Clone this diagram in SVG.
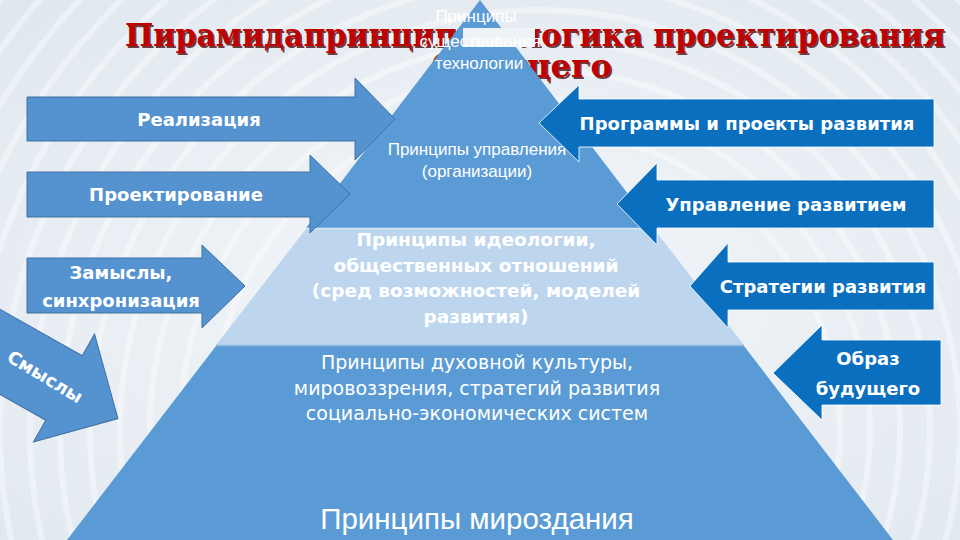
<svg xmlns="http://www.w3.org/2000/svg" width="960" height="540" viewBox="0 0 960 540">
  <defs>
    <radialGradient id="bg" cx="0.5" cy="0.55" r="0.75">
      <stop offset="0" stop-color="#f4f7fa"/>
      <stop offset="1" stop-color="#dfe7ee"/>
    </radialGradient>
    <style>
      .rings circle { fill: none; stroke: #ffffff; stroke-width: 6; stroke-opacity: 0.4; }
      .title { font-family: "DejaVu Serif", "Liberation Serif", serif; font-weight: bold; font-size: 31px; fill: #c00000; }
      .tshadow { font-family: "DejaVu Serif", "Liberation Serif", serif; font-weight: bold; font-size: 31px; fill: #4a0a0a; fill-opacity: 0.8; }
      .larrow { fill: #5592d0; stroke: #3f70a0; stroke-width: 1; }
      .rarrow { fill: #0b6fc0; stroke: #ffffff; stroke-width: 0.8; }
      .albl { font-family: "DejaVu Sans", "Liberation Sans", sans-serif; font-weight: bold; font-size: 18px; fill: #ffffff; text-anchor: middle; }
      .pt { font-family: "Liberation Sans", "Arial", sans-serif; font-size: 17px; fill: #ffffff; text-anchor: middle; }
      .pmid { font-family: "DejaVu Sans", "Liberation Sans", sans-serif; font-weight: bold; font-size: 18.5px; fill: #ffffff; text-anchor: middle; }
      .pbot { font-family: "DejaVu Sans", "Liberation Sans", sans-serif; font-size: 19px; fill: #ffffff; text-anchor: middle; }
      .pbase { font-family: "Liberation Sans", "Arial", sans-serif; font-size: 29.5px; fill: #ffffff; text-anchor: middle; }
      .layer-dark { fill: #5b9bd5; }
      .layer-light { fill: #bdd6ee; }
    </style>
  </defs>

  <!-- background -->
  <rect x="0" y="0" width="960" height="540" fill="url(#bg)"/>
  <g class="rings">
    <circle cx="540" cy="430" r="300"/>
    <circle cx="540" cy="430" r="330"/>
    <circle cx="540" cy="430" r="360"/>
    <circle cx="540" cy="430" r="390"/>
    <circle cx="540" cy="430" r="420"/>
    <circle cx="540" cy="430" r="450"/>
    <circle cx="540" cy="430" r="480"/>
    <circle cx="540" cy="430" r="510"/>
    <circle cx="540" cy="430" r="540"/>
    <circle cx="540" cy="430" r="570"/>
    <circle cx="540" cy="430" r="600"/>
    <circle cx="540" cy="430" r="630"/>
    <circle cx="540" cy="430" r="660"/>
    <circle cx="540" cy="430" r="690"/>
  </g>

  <!-- title -->
  <g id="title">
    <text class="tshadow" x="126.5" y="47.5" textLength="820" lengthAdjust="spacingAndGlyphs">Пирамидапринципы - логика проектирования</text>
    <text class="title" x="125" y="46" textLength="820" lengthAdjust="spacingAndGlyphs">Пирамидапринципы - логика проектирования</text>
    <text class="tshadow" x="433.5" y="78.5" textLength="180" lengthAdjust="spacingAndGlyphs">будущего</text>
    <text class="title" x="432" y="77" textLength="180" lengthAdjust="spacingAndGlyphs">будущего</text>
  </g>

  <!-- pyramid -->
  <g id="pyramid">
    <polygon id="layer-top" class="layer-dark" points="480,0 306,228 654,228"/>
    <polygon id="layer-mid" class="layer-light" points="306,229 654,229 744,345 216,345"/>
    <polygon id="layer-bottom" class="layer-dark" points="216,346 744,346 893,540 67,540"/>
    <line x1="306" y1="228.5" x2="654" y2="228.5" stroke="#d6e6f5" stroke-width="1.5"/>
    <line x1="216" y1="345.5" x2="744" y2="345.5" stroke="#8fb8e0" stroke-width="1.5"/>
    <rect x="463" y="28" width="72" height="19" fill="#eef3f8"/>
  </g>

  <g id="node-tech">
    <text class="pt" x="476" y="22">Принципы</text>
    <text class="pt" x="480" y="47">существования</text>
    <text class="pt" x="479" y="69">технологии</text>
  </g>
  <g id="node-manage">
    <text class="pt" x="477" y="155" font-size="18">Принципы управления</text>
    <text class="pt" x="477" y="177" font-size="18">(организации)</text>
  </g>
  <g id="node-ideology">
    <text class="pmid" x="476" y="246">Принципы идеологии,</text>
    <text class="pmid" x="476" y="272">общественных отношений</text>
    <text class="pmid" x="476" y="297">(сред возможностей, моделей</text>
    <text class="pmid" x="476" y="323">развития)</text>
  </g>
  <g id="node-culture">
    <text class="pbot" x="477" y="369">Принципы духовной культуры,</text>
    <text class="pbot" x="477" y="395">мировоззрения, стратегий развития</text>
    <text class="pbot" x="477" y="420">социально-экономических систем</text>
  </g>
  <g id="node-universe">
    <text class="pbase" x="477" y="529">Принципы мироздания</text>
  </g>

  <!-- connectors: arrows -->
  <g id="connectors">
    <g id="arrow-realization">
      <polygon class="larrow" points="27,97 355,97 355,78 395,119 355,160 355,141 27,141"/>
      <text class="albl" x="199" y="126">Реализация</text>
    </g>
    <g id="arrow-design">
      <polygon class="larrow" points="27,172 310,172 310,155 350,194 310,233 310,217 27,217"/>
      <text class="albl" x="176" y="201">Проектирование</text>
    </g>
    <g id="arrow-ideas">
      <polygon class="larrow" points="27,258 202,258 202,245 245,286 202,328 202,313 27,313"/>
      <text class="albl" x="121" y="279">Замыслы,</text>
      <text class="albl" x="121" y="307">синхронизация</text>
    </g>
    <g id="arrow-meanings">
      <polygon class="larrow" transform="translate(64,388) rotate(29.5)" points="-160,-37 0,-37 0,-62 62,0 0,62 0,37 -160,37"/>
      <text class="albl" transform="translate(45,377) rotate(31)" x="0" y="6">Смыслы</text>
    </g>

    <g id="arrow-programs">
      <polygon class="rarrow" points="934,99 579,99 579,85 539,123 579,162 579,147 934,147"/>
      <text class="albl" x="747" y="130">Программы и проекты развития</text>
    </g>
    <g id="arrow-management">
      <polygon class="rarrow" points="934,180 657,180 657,163 617,204 657,245 657,228 934,228"/>
      <text class="albl" x="786" y="211">Управление развитием</text>
    </g>
    <g id="arrow-strategy">
      <polygon class="rarrow" points="934,262 728,262 728,243 690,286 728,328 728,310 934,310"/>
      <text class="albl" x="823" y="293">Стратегии развития</text>
    </g>
    <g id="arrow-image">
      <polygon class="rarrow" points="941,340 822,340 822,325 773,373 822,420 822,405 941,405"/>
      <text class="albl" x="868" y="365">Образ</text>
      <text class="albl" x="868" y="395">будущего</text>
    </g>
  </g>
</svg>
